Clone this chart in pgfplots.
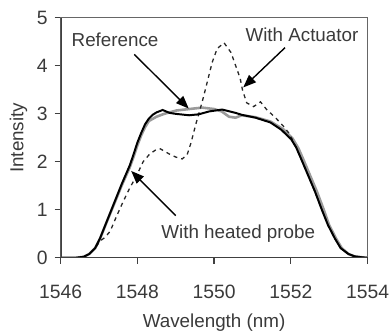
\documentclass[border=0pt]{standalone}
\usepackage{fontspec}
\setmainfont{Liberation Sans}
\usepackage{pgfplots}
\pgfplotsset{compat=1.18}
\usetikzlibrary{arrows.meta}
\definecolor{axgray}{HTML}{404040}
\definecolor{txtgray}{HTML}{3A3A3A}
\definecolor{refgray}{HTML}{9A9A9A}
\begin{document}
\begin{tikzpicture}
\begin{axis}[
  scale only axis, width=309bp, height=241.5bp,
  xmin=1546, xmax=1554, ymin=0, ymax=5,
  xtick={1546,1548,1550,1552,1554},
  ytick={0,1,2,3,4,5},
  xtick pos=left, ytick pos=left,
  tick align=outside, major tick length=6bp,
  tick style={axgray, line width=1.2bp},
  axis line style={axgray!80, line width=0.8bp},
  font=\fontsize{19}{22}\selectfont,
  tick label style={txtgray, font=\fontsize{19.5}{23}\selectfont, inner sep=1bp},
  /pgf/number format/assume math mode=true,
  /pgf/number format/1000 sep={},
  xticklabel style={yshift=-20bp},
  yticklabel style={xshift=-6bp},
  xlabel={Wavelength (nm)}, ylabel={Intensity},
  xlabel style={txtgray, inner sep=0pt, at={(axis description cs:0.5,-0.292)}, anchor=base},
  ylabel style={txtgray, at={(axis description cs:-0.137,0.5)}, anchor=center},
  clip=true,
]
\addplot[refgray, line width=2.6bp] coordinates {
(1546,0) (1546.4,0) (1546.6,0.02) (1546.75,0.08) (1546.9,0.2) (1547.03,0.40)
(1547.2,0.74) (1547.4,1.13) (1547.6,1.52) (1547.8,1.88) (1547.9,2.1) (1548.0,2.34)
(1548.1,2.55) (1548.2,2.72) (1548.3,2.85) (1548.5,2.94) (1548.7,3.0) (1549.02,3.07)
(1549.35,3.1) (1549.69,3.13) (1550.0,3.1) (1550.2,3.05) (1550.39,2.94) (1550.56,2.92)
(1550.72,2.97) (1551.08,2.93) (1551.47,2.84) (1551.8,2.68) (1552.05,2.48) (1552.2,2.28)
(1552.32,2.06) (1552.5,1.72) (1552.68,1.38) (1552.85,1.02) (1553.0,0.68) (1553.18,0.4)
(1553.33,0.2) (1553.5,0.08) (1553.66,0.03) (1553.85,0.01) (1554,0)
};
\addplot[black!85, line width=1.3bp, dash pattern=on 4bp off 4bp] coordinates {
(1546,0) (1546.4,0) (1546.6,0.02) (1546.75,0.08) (1546.9,0.2) (1547.03,0.35)
(1547.15,0.42) (1547.29,0.55) (1547.45,0.85) (1547.63,1.17) (1547.8,1.45) (1547.98,1.71)
(1548.15,2.0) (1548.32,2.16) (1548.5,2.26) (1548.6,2.27) (1548.84,2.16) (1549.0,2.1)
(1549.17,2.06) (1549.3,2.15) (1549.4,2.4) (1549.53,2.8) (1549.69,3.25) (1549.79,3.56)
(1549.95,4.07) (1550.08,4.36) (1550.26,4.48) (1550.44,4.28) (1550.56,4.01) (1550.68,3.74)
(1550.74,3.5) (1550.85,3.23) (1551.03,3.15) (1551.21,3.25) (1551.37,3.09) (1551.6,2.92)
(1551.81,2.74) (1551.94,2.61) (1552.05,2.45) (1552.27,2.06) (1552.45,1.72) (1552.63,1.38)
(1552.8,1.02) (1552.97,0.68) (1553.15,0.4) (1553.3,0.2) (1553.5,0.08) (1553.66,0.03)
(1553.85,0.01) (1554,0)
};
\addplot[black, line width=2bp] coordinates {
(1546,0) (1546.4,0) (1546.6,0.02) (1546.75,0.08) (1546.9,0.2) (1547.03,0.41)
(1547.2,0.75) (1547.4,1.15) (1547.6,1.55) (1547.8,1.92) (1547.9,2.15) (1548.0,2.4)
(1548.1,2.6) (1548.2,2.78) (1548.3,2.9) (1548.4,2.98) (1548.5,3.03) (1548.66,3.08)
(1548.84,3.02) (1549.0,3.0) (1549.35,2.97) (1549.6,2.99) (1549.87,3.05) (1550.21,3.09)
(1550.56,3.02) (1550.72,2.98) (1551.08,2.92) (1551.47,2.82) (1551.75,2.67) (1552.01,2.47)
(1552.14,2.3) (1552.27,2.06) (1552.45,1.72) (1552.63,1.38) (1552.8,1.02) (1552.97,0.68)
(1553.15,0.4) (1553.3,0.2) (1553.5,0.08) (1553.66,0.03) (1553.85,0.01) (1554,0)
};
\draw[axgray, line width=2bp] (rel axis cs:0,1) -- (rel axis cs:0,0) -- (rel axis cs:1,0);
\node[txtgray, font=\fontsize{19}{22}\selectfont] at (axis cs:1547.42,4.54) {Reference};
\node[txtgray, font=\fontsize{19}{22}\selectfont] at (axis cs:1552.29,4.65) {With Actuator};
\node[txtgray, font=\fontsize{19}{22}\selectfont] at (axis cs:1550.63,0.51) {With heated probe};
\draw[black, line width=1.4bp, -{Triangle[length=13bp,width=10bp]}] (axis cs:1547.92,4.24) -- (axis cs:1549.34,3.11);
\draw[black, line width=1.4bp, -{Triangle[length=13bp,width=10bp]}] (axis cs:1551.85,4.38) -- (axis cs:1550.76,3.55);
\draw[black, line width=1.4bp, -{Triangle[length=13bp,width=10bp]}] (axis cs:1549.0,0.88) -- (axis cs:1547.84,1.81);
\end{axis}
\path (-61bp,-71bp) rectangle (331bp,259.5bp);
\end{tikzpicture}
\end{document}
